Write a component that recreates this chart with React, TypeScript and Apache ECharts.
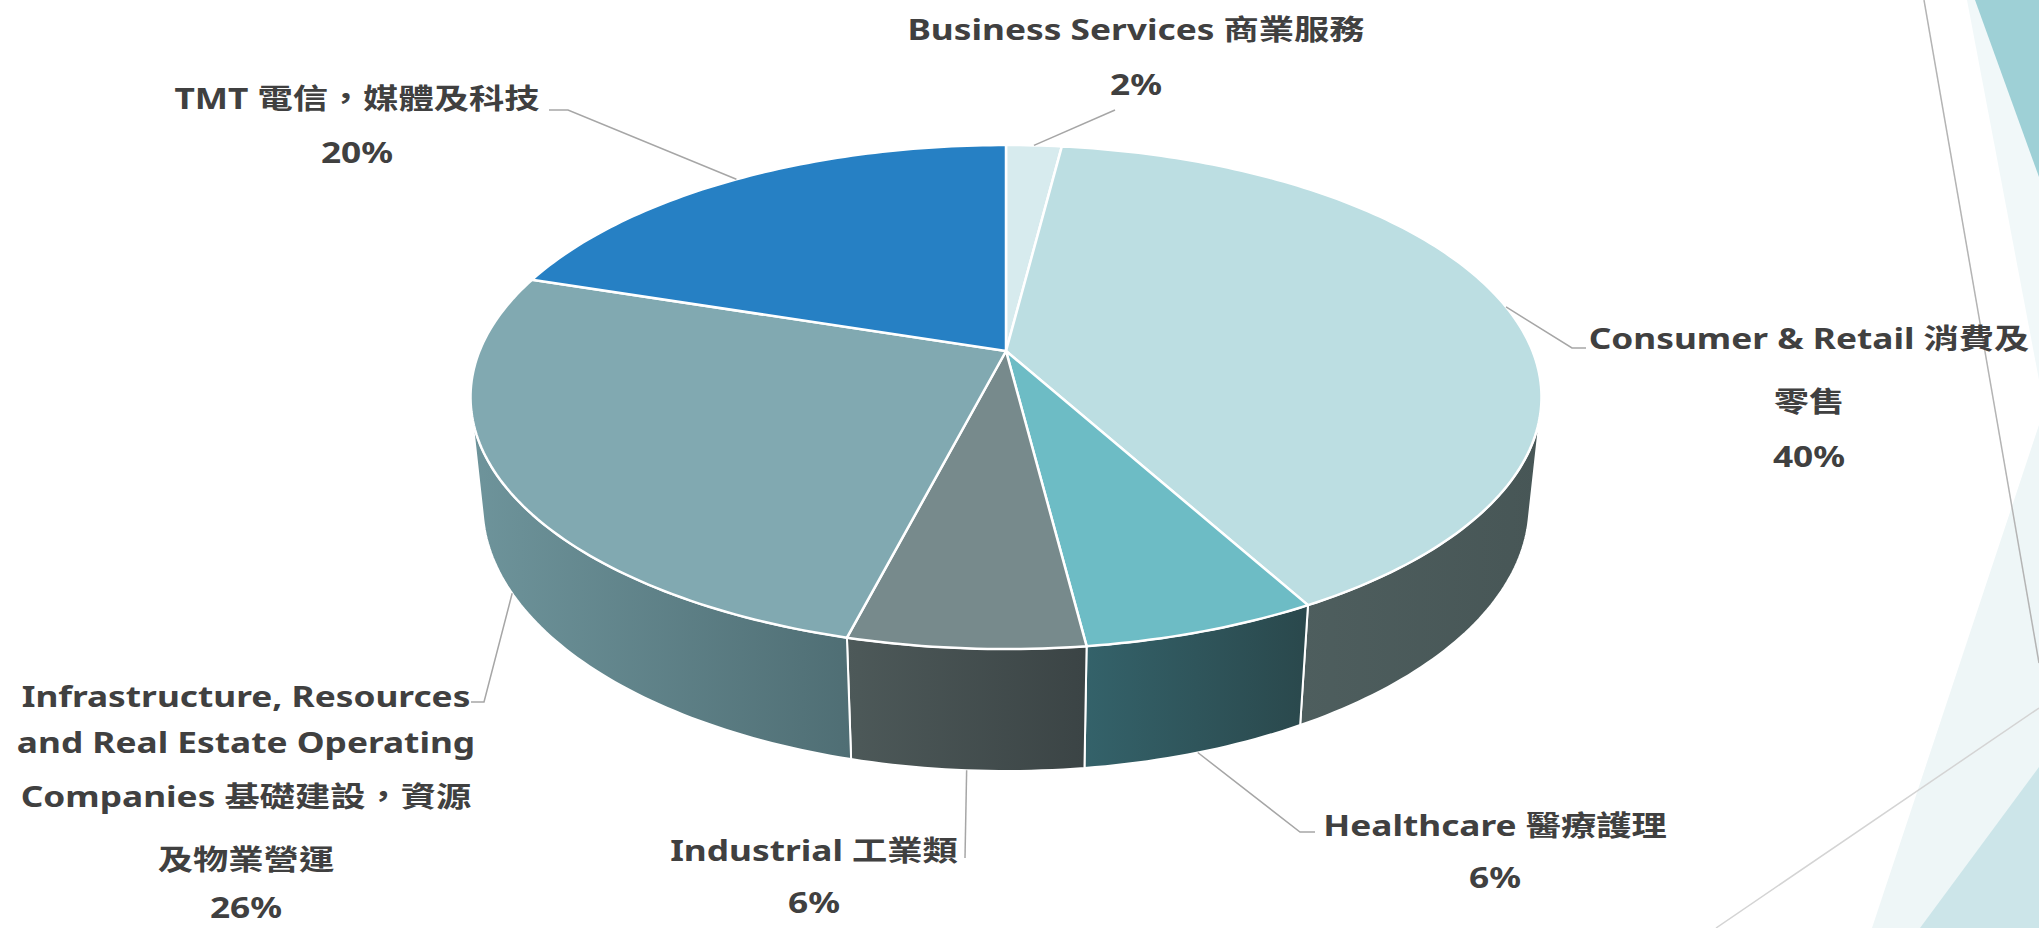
import React, { useEffect, useRef } from "react";
import * as echarts from "echarts";

// ---------- DATA ----------
const categories = [
  "Business Services",
  "Consumer & Retail",
  "Healthcare",
  "Industrial",
  "Infrastructure, Resources and Real Estate Operating Companies",
  "TMT",
];
const chineseNames = ["商業服務", "消費及零售", "醫療護理", "工業類", "基礎建設，資源及物業營運", "電信，媒體及科技"];
const values = [2, 40, 6, 6, 26, 20];
const percentLabels = ["2%", "40%", "6%", "6%", "26%", "20%"];
const labelLines = [
  ["Business Services 商業服務"],
  ["Consumer & Retail 消費及", "零售"],
  ["Healthcare 醫療護理"],
  ["Industrial 工業類"],
  ["Infrastructure, Resources", "and Real Estate Operating", "Companies 基礎建設，資源", "及物業營運"],
  ["TMT 電信，媒體及科技"],
];

// ---------- STYLE / LAYOUT ----------
const topColors = ["#d7ebee", "#bcdee2", "#6dbcc5", "#778a8c", "#81a9b1", "#2680c4"];
const sideColors = [
  ["#a9c7cb", "#9ab8bc"],
  ["#4e5e5e", "#475656"],
  ["#34626a", "#2a484c"],
  ["#4d5959", "#3b4445"],
  ["#6e949b", "#4f6e74"],
  ["#1c5f93", "#174f7a"],
];
const labelLayout = [
  { x: 1136, ys: [29, 84] },
  { x: 1809, ys: [338, 401, 456] },
  { x: 1495, ys: [825, 877] },
  { x: 814, ys: [850, 902] },
  { x: 246, ys: [696, 742, 796, 859, 907] },
  { x: 357, ys: [98, 152] },
];
const leaderLayout = [
  [[1115, 110], [1115, 110]],
  [[1572, 348], [1586, 348]],
  [[1300, 832], [1315, 832]],
  [[965, 858], [965, 858]],
  [[484, 702], [471, 702]],
  [[568, 110], [549, 110]],
];

// 3D projection parameters
const CX = 1006;
const CY = 351;
const F = 2555;
const DIST = 4.853;
const ALPHA = (27.56 * Math.PI) / 180;
const SA = Math.sin(ALPHA);
const CA = Math.cos(ALPHA);
const H = 0.2336;
const V1 = (Math.acos(-1 / (DIST * CA)) * 180) / Math.PI;
const V2 = 360 - V1;

function proj(deg: number, yw: number): [number, number] {
  const t = (deg * Math.PI) / 180;
  const X = Math.sin(t);
  const Z = Math.cos(t);
  const v = Z * SA + yw * CA;
  const w = DIST + Z * CA - yw * SA;
  return [CX + (F * X) / w, CY - (F * v) / w];
}

function arc(a0: number, a1: number, yw: number): [number, number][] {
  const pts: [number, number][] = [];
  const n = Math.max(2, Math.ceil(a1 - a0));
  for (let k = 0; k <= n; k++) pts.push(proj(a0 + ((a1 - a0) * k) / n, yw));
  return pts;
}

const total = values.reduce((a, b) => a + b, 0);
const angles: [number, number][] = (() => {
  let acc = 0;
  return values.map((v) => {
    const a0 = (acc / total) * 360;
    acc += v;
    return [a0, (acc / total) * 360] as [number, number];
  });
})();

const FONT = "'Noto Sans', 'Noto Sans CJK TC', sans-serif";

export default function App() {
  const ref = useRef<HTMLDivElement>(null);
  useEffect(() => {
    if (!ref.current) return;
    const chart = echarts.init(ref.current, undefined, { renderer: "svg" });
    const data = values.map((v, i) => ({ value: [v], name: categories[i] + " " + chineseNames[i] }));

    const graphics: any[] = [
      { type: "polygon", z: 0, silent: true, shape: { points: [[1967, 0], [2039, 0], [2039, 380]] }, style: { fill: "#f1f8f9" } },
      { type: "polygon", z: 0, silent: true, shape: { points: [[2039, 425], [2039, 928], [1872, 928]] }, style: { fill: "#eef6f7" } },
      { type: "polygon", z: 0, silent: true, shape: { points: [[1975, 0], [2039, 0], [2039, 177]] }, style: { fill: "#9ed0d6" } },
      { type: "polygon", z: 0, silent: true, shape: { points: [[2039, 767], [1920, 928], [2039, 928]] }, style: { fill: "#cce5e9" } },
      { type: "line", z: 1, silent: true, shape: { x1: 1924, y1: 0, x2: 2039, y2: 663 }, style: { stroke: "#b4b4b4", lineWidth: 1.5 } },
      { type: "line", z: 1, silent: true, shape: { x1: 1716, y1: 928, x2: 2039, y2: 708 }, style: { stroke: "#d4d4d4", lineWidth: 1.5 } },
    ];
    labelLines.forEach((lines, i) => {
      const lay = labelLayout[i];
      const all = [...lines, percentLabels[i]];
      all.forEach((t, j) => {
        graphics.push({
          type: "text",
          z: 20,
          silent: true,
          x: lay.x,
          y: lay.ys[j],
          scaleX: 1.26,
          style: {
            text: t,
            fill: "#404040",
            fontSize: 28,
            fontWeight: "bold",
            fontFamily: FONT,
            align: "center",
            textAlign: "center",
            verticalAlign: "middle",
            textVerticalAlign: "middle",
          },
        });
      });
    });

    const option: any = {
      animation: false,
      backgroundColor: "#ffffff",
      graphic: graphics,
      series: [
        {
          type: "custom",
          name: "sides",
          coordinateSystem: "none",
          silent: true,
          z: 2,
          data,
          renderItem: (params: any) => {
            const i = params.dataIndex;
            const [a0, a1] = angles[i];
            const lo = Math.max(a0, V1);
            const hi = Math.min(a1, V2);
            if (hi <= lo) return { type: "group", children: [] };
            const pts = [...arc(lo, hi, 0), ...arc(lo, hi, -H).reverse()];
            return {
              type: "polygon",
              shape: { points: pts },
              style: {
                fill: new echarts.graphic.LinearGradient(0, 0, 1, 0, [
                  { offset: 0, color: sideColors[i][0] },
                  { offset: 1, color: sideColors[i][1] },
                ]),
                stroke: "#ffffff",
                lineWidth: 2,
                lineJoin: "round",
              },
            };
          },
        },
        {
          type: "custom",
          name: "tops",
          coordinateSystem: "none",
          silent: true,
          z: 3,
          data,
          renderItem: (params: any) => {
            const i = params.dataIndex;
            const [a0, a1] = angles[i];
            const pts = [[CX, CY], ...arc(a0, a1, 0)];
            return {
              type: "polygon",
              shape: { points: pts },
              style: { fill: topColors[i], stroke: "#ffffff", lineWidth: 2.5, lineJoin: "round" },
            };
          },
        },
        {
          type: "custom",
          name: "leaders",
          coordinateSystem: "none",
          silent: true,
          z: 4,
          data,
          renderItem: (params: any) => {
            const i = params.dataIndex;
            const [a0, a1] = angles[i];
            const mid = (a0 + a1) / 2;
            const anchor = mid > V1 && mid < V2 ? proj(mid, -H) : proj(mid, 0);
            return {
              type: "polyline",
              shape: { points: [anchor, ...leaderLayout[i]] },
              style: { stroke: "#a6a6a6", lineWidth: 1.5, fill: null },
            };
          },
        },
      ],
    };
    chart.setOption(option);
    return () => chart.dispose();
  }, []);
  return (
    <div
      ref={ref}
      style={{ position: "fixed", left: 0, top: 0, width: 2039, height: 928, background: "#fff" }}
    />
  );
}
